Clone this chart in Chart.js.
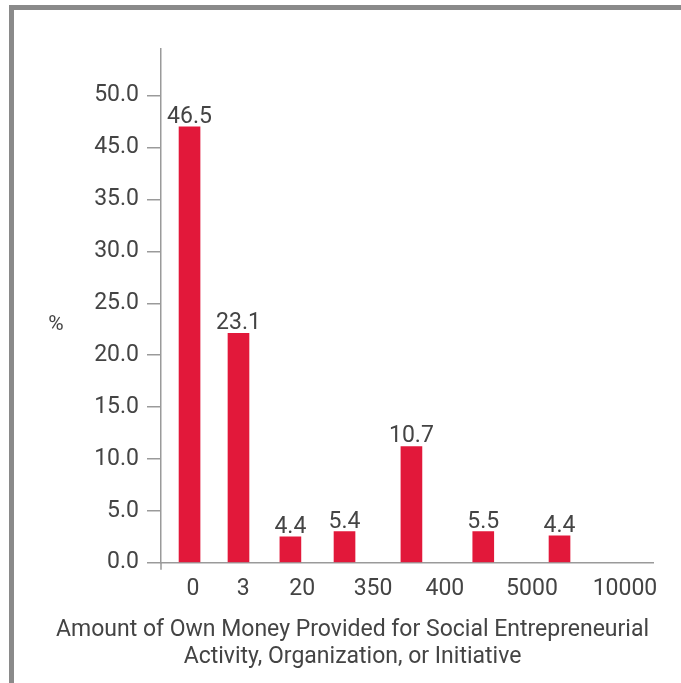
<!DOCTYPE html>
<html>
<head>
<meta charset="utf-8">
<script src="https://cdn.jsdelivr.net/npm/chart.js@4.4.1/dist/chart.umd.min.js"></script>
<style>
  body { margin: 0; background: #fff; }
  #wrap { position: relative; width: 681px; height: 683px; }
  #frame { position: absolute; left: 9px; top: 5px; right: 0; bottom: 0;
           border-left: 5px solid #8a8a8a; border-top: 5px solid #8a8a8a; }
  #c { position: absolute; left: 0; top: 0; }
</style>
</head>
<body>
<div id="wrap">
  <div id="frame"></div>
  <canvas id="c" width="681" height="683"></canvas>
</div>
<script>
// categories along the bottom
let categories = ['0', '3', '20', '350', '400', '5000', '10000']
// numbers printed over the bars
let printedValues = ['46.5', '23.1', '4.4', '5.4', '10.7', '5.5', '4.4']
// bar heights as read against the y axis (axis units)
let barHeights = [42.0, 22.1, 2.5, 3.0, 11.2, 3.0, 2.6]
// where bars and category labels sit along the x axis (0..100)
let barSlots = [5.8, 15.75, 26.3, 37.3, 50.9, 65.5, 81.0]
let categorySlots = [6.5, 16.7, 28.7, 43.1, 57.7, 75.4, 94.3]
// y tick labels (the source skips 40.0)
let yTickSlots = [0, 5, 10, 15, 20, 25, 30, 35, 40, 45]
let yTickLabels = ['0.0', '5.0', '10.0', '15.0', '20.0', '25.0', '30.0', '35.0', '45.0', '50.0']

let textColor = '#444'
let axisColor = '#9a9a9a'
let fontFamily = 'Roboto'
let fontSize = 23

let extras = {
  id: 'extras',
  afterDatasetsDraw(chart) {
    let ctx = chart.ctx
    ctx.save()
    ctx.fillStyle = textColor
    ctx.font = fontSize + 'px ' + fontFamily
    ctx.textAlign = 'center'
    ctx.textBaseline = 'alphabetic'
    chart.getDatasetMeta(0).data.forEach((bar, i) => {
      ctx.fillText(printedValues[i], bar.x, bar.y - 4)
    })
    // % label, not rotated
    ctx.font = '21px ' + fontFamily
    ctx.textBaseline = 'middle'
    ctx.fillText('%', 56, 325)
    // little stub below the origin
    let a = chart.chartArea
    ctx.strokeStyle = axisColor
    ctx.lineWidth = 1.5
    ctx.beginPath()
    ctx.moveTo(a.left, a.bottom)
    ctx.lineTo(a.left, a.bottom + 7)
    ctx.stroke()
    ctx.restore()
  }
}

let ctx = document.getElementById('c').getContext('2d')
let chart = new Chart(ctx, {
  type: 'bar',
  data: {
    datasets: [{
      data: barHeights.map((h, i) => ({ x: barSlots[i], y: h })),
      backgroundColor: '#e2183a',
      barThickness: 21
    }]
  },
  plugins: [extras],
  options: {
    responsive: false,
    animation: false,
    layout: { padding: { left: 52, right: 28, top: 49, bottom: 12 } },
    plugins: {
      legend: { display: false },
      tooltip: { enabled: false },
      title: {
        display: true,
        position: 'bottom',
        text: ['Amount of Own Money Provided for Social Entrepreneurial', 'Activity, Organization, or Initiative'],
        color: textColor,
        font: { family: fontFamily, size: fontSize, weight: 'normal', lineHeight: 1.18 },
        padding: 0
      }
    },
    scales: {
      x: {
        type: 'linear',
        min: 0,
        max: 100,
        offset: false,
        afterBuildTicks: s => { s.ticks = categorySlots.map(v => ({ value: v })) },
        afterFit: s => { s.height = 54 },
        grid: { display: false, offset: false },
        border: { display: true, color: axisColor, width: 1.5 },
        ticks: {
          color: textColor,
          font: { family: fontFamily, size: fontSize },
          padding: 5,
          maxRotation: 0,
          autoSkip: false,
          callback: (v, i) => categories[i]
        }
      },
      y: {
        min: 0,
        max: 49.5,
        afterBuildTicks: s => { s.ticks = yTickSlots.map(v => ({ value: v })) },
        afterFit: s => { s.width = 109 },
        grid: { drawOnChartArea: false, drawTicks: true, tickLength: 14, color: axisColor, lineWidth: 1.5 },
        border: { display: true, color: axisColor, width: 1.5 },
        ticks: {
          color: textColor,
          font: { family: fontFamily, size: fontSize },
          padding: 8,
          autoSkip: false,
          callback: (v, i) => yTickLabels[i]
        }
      }
    }
  }
})
</script>
</body>
</html>
